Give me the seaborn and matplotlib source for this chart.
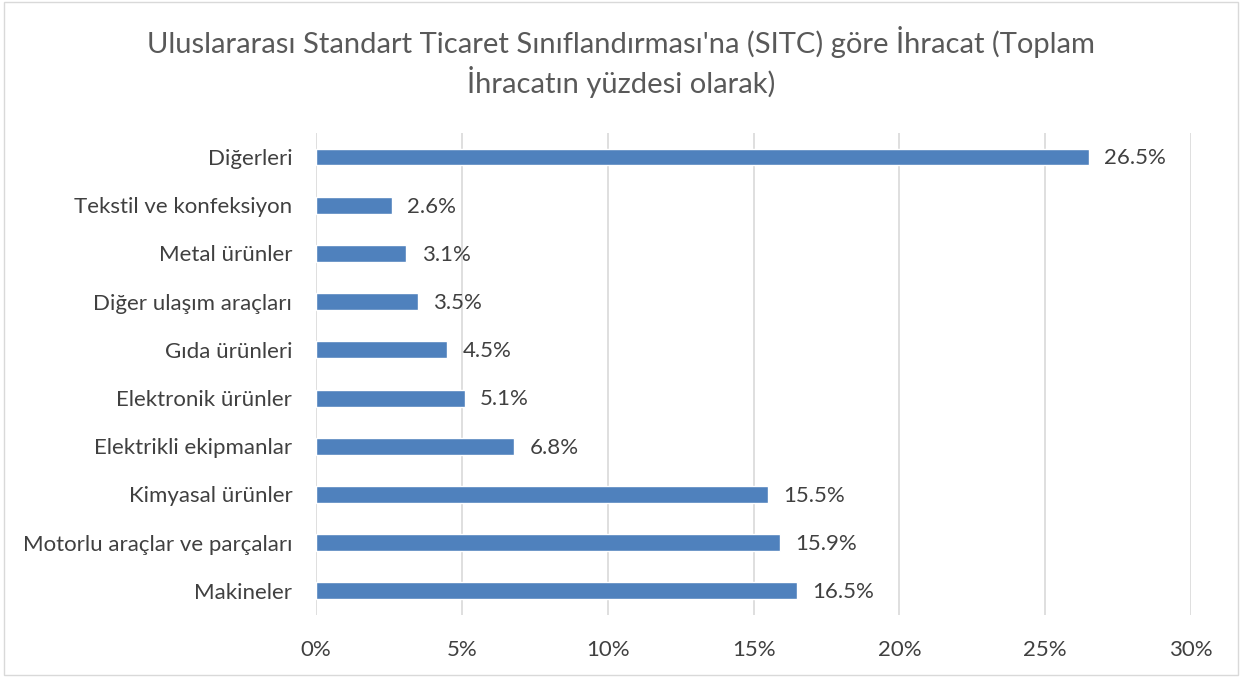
import matplotlib
matplotlib.use("Agg")
import matplotlib.pyplot as plt
import seaborn as sns
import pandas as pd

categories = ["Diğerleri", "Tekstil ve konfeksiyon", "Metal ürünler", "Diğer ulaşım araçları",
              "Gıda ürünleri", "Elektronik ürünler", "Elektrikli ekipmanlar", "Kimyasal ürünler",
              "Motorlu araçlar ve parçaları", "Makineler"]
values = [26.5, 2.6, 3.1, 3.5, 4.5, 5.1, 6.8, 15.5, 15.9, 16.5]
xticks = [0, 5, 10, 15, 20, 25, 30]
title = "Uluslararası Standart Ticaret Sınıflandırması'na (SITC) göre İhracat (Toplam\nİhracatın yüzdesi olarak)"

sns.set_theme(style="white")
plt.rcParams['font.family'] = ['Lato', 'DejaVu Sans']

df = pd.DataFrame({"cat": categories, "val": values})

fig = plt.figure(figsize=(12.42, 6.77), dpi=100)
ax = fig.add_axes([0.2544, 0.0916, 0.7046, 0.712])
sns.barplot(data=df, y="cat", x="val", orient="h", color="#4F81BD", width=0.35,
            saturation=1, ax=ax)

ax.set_xlim(0, 30)
ax.set_xticks(xticks)
ax.set_xticklabels([f"{t}%" for t in xticks], fontsize=16, color="#404040")
ax.tick_params(axis="y", labelsize=16, labelcolor="#404040", length=0, pad=17)
ax.tick_params(axis="x", length=0, pad=18)
ax.set_xlabel("")
ax.set_ylabel("")
for s in ax.spines.values():
    s.set_visible(False)
ax.grid(axis="x", color="#D9D9D9", linewidth=1.2)
ax.set_axisbelow(True)

for i, v in enumerate(values):
    ax.annotate(f"{v:.1f}%", (v, i), xytext=(11, -1), textcoords="offset points",
                va="center", ha="left", fontsize=16, color="#404040")

fig.text(0.5, 0.962, title, ha="center", va="top", fontsize=21, color="#595959", linespacing=1.3)

border = plt.Rectangle((0.003, 0.003), 0.994, 0.994, transform=fig.transFigure,
                       fill=False, edgecolor="#D9D9D9", linewidth=1)
fig.add_artist(border)

fig.savefig("out.png", dpi=100)
